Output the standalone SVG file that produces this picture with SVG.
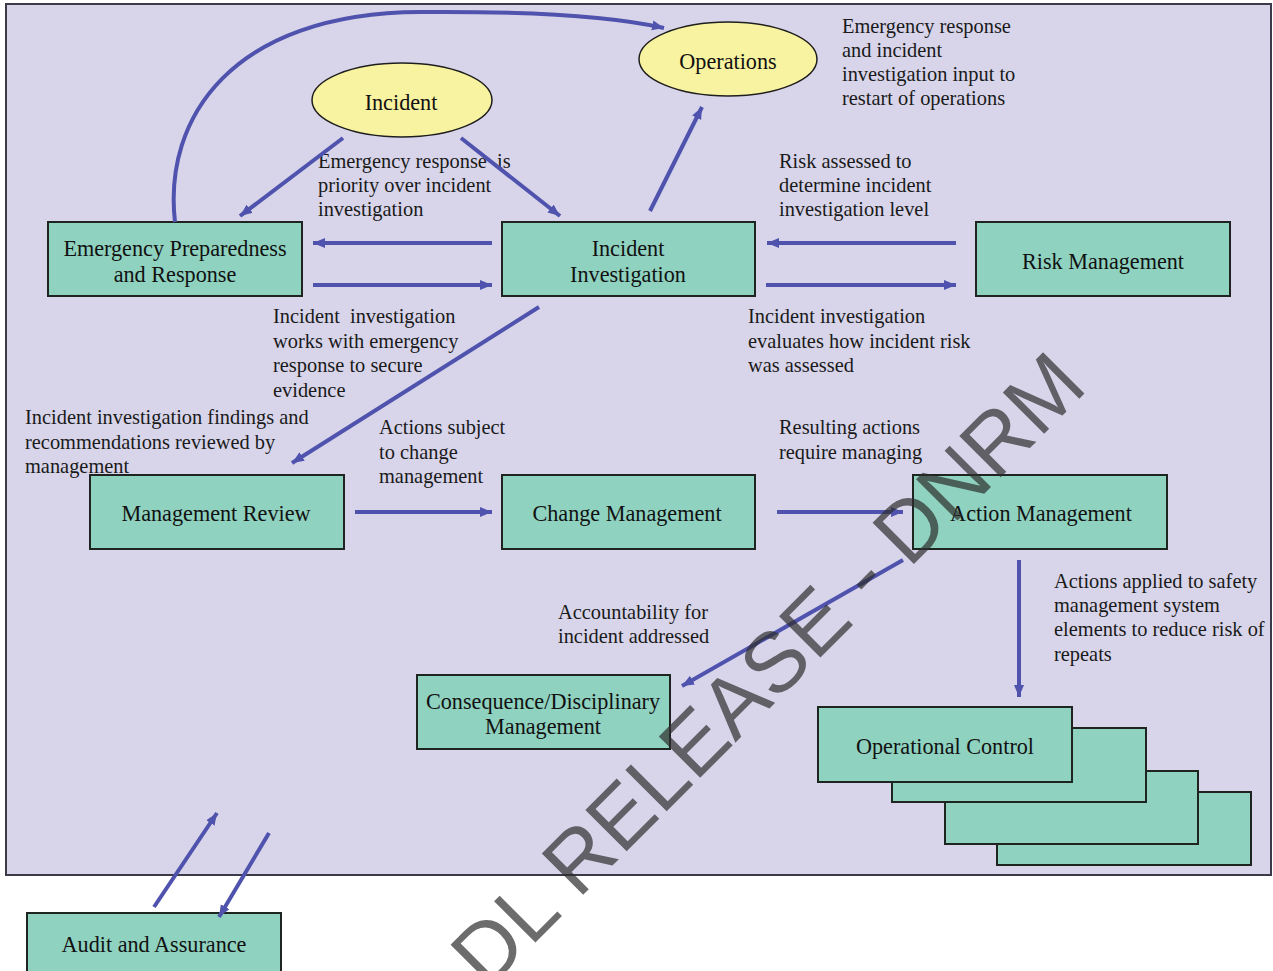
<svg xmlns="http://www.w3.org/2000/svg" width="1273" height="971" viewBox="0 0 1273 971">
  <defs>
    <marker id="head" markerUnits="userSpaceOnUse" markerWidth="14" markerHeight="12" refX="12" refY="5" orient="auto">
      <path d="M0,0 L12,5 L0,10 z" fill="#4f53ad"/>
    </marker>
    <style>
      .frame { fill: #d8d5ea; stroke: #3a3a48; stroke-width: 2; }
      .box { fill: #8fd2c0; stroke: #1e2420; stroke-width: 2; }
      .oval { fill: #f8f3a0; stroke: #1e1e1e; stroke-width: 1.5; }
      .node-text { font-family: "Liberation Serif", "Times New Roman", serif; font-size: 22.2px; fill: #111; text-anchor: middle; }
      .label { font-family: "Liberation Serif", "Times New Roman", serif; font-size: 20.4px; fill: #1a1a1a; }
      .conn { fill: none; stroke: #4f53ad; stroke-width: 4; marker-end: url(#head); }
      .mark { font-family: "Liberation Sans", Arial, sans-serif; font-size: 85px; fill: #2e2e2e; fill-opacity: 0.7; }
    </style>
  </defs>

  <rect class="frame" x="6" y="4" width="1265" height="871"/>

  <!-- Labels -->
  <g id="labels">
    <text class="label" x="842" y="33">Emergency response</text>
    <text class="label" x="842" y="57">and incident</text>
    <text class="label" x="842" y="81">investigation input to</text>
    <text class="label" x="842" y="105">restart of operations</text>

    <text class="label" x="318" y="168" xml:space="preserve">Emergency response  is</text>
    <text class="label" x="318" y="192">priority over incident</text>
    <text class="label" x="318" y="216">investigation</text>

    <text class="label" x="779" y="168">Risk assessed to</text>
    <text class="label" x="779" y="192">determine incident</text>
    <text class="label" x="779" y="216">investigation level</text>

    <text class="label" x="273" y="323" xml:space="preserve">Incident  investigation</text>
    <text class="label" x="273" y="348">works with emergency</text>
    <text class="label" x="273" y="372">response to secure</text>
    <text class="label" x="273" y="397">evidence</text>

    <text class="label" x="748" y="323">Incident investigation</text>
    <text class="label" x="748" y="348">evaluates how incident risk</text>
    <text class="label" x="748" y="372">was assessed</text>

    <text class="label" x="25" y="424">Incident investigation findings and</text>
    <text class="label" x="25" y="449">recommendations reviewed by</text>
    <text class="label" x="25" y="473">management</text>

    <text class="label" x="379" y="434">Actions subject</text>
    <text class="label" x="379" y="459">to change</text>
    <text class="label" x="379" y="483">management</text>

    <text class="label" x="779" y="434">Resulting actions</text>
    <text class="label" x="779" y="459">require managing</text>

    <text class="label" x="558" y="619">Accountability for</text>
    <text class="label" x="558" y="643">incident addressed</text>

    <text class="label" x="1054" y="588">Actions applied to safety</text>
    <text class="label" x="1054" y="612">management system</text>
    <text class="label" x="1054" y="636">elements to reduce risk of</text>
    <text class="label" x="1054" y="661">repeats</text>
  </g>

  <!-- Nodes -->
  <g id="incident">
    <ellipse class="oval" cx="402" cy="100" rx="90" ry="37"/>
    <text class="node-text" x="401" y="110">Incident</text>
  </g>
  <g id="operations">
    <ellipse class="oval" cx="728" cy="59" rx="89" ry="37"/>
    <text class="node-text" x="728" y="69">Operations</text>
  </g>
  <g id="emergency-preparedness">
    <rect class="box" x="48" y="222" width="254" height="74"/>
    <text class="node-text" x="175" y="256">Emergency Preparedness</text>
    <text class="node-text" x="175" y="282">and Response</text>
  </g>
  <g id="incident-investigation">
    <rect class="box" x="502" y="222" width="253" height="74"/>
    <text class="node-text" x="628" y="256">Incident</text>
    <text class="node-text" x="628" y="282">Investigation</text>
  </g>
  <g id="risk-management">
    <rect class="box" x="976" y="222" width="254" height="74"/>
    <text class="node-text" x="1103" y="269">Risk Management</text>
  </g>
  <g id="management-review">
    <rect class="box" x="90" y="475" width="254" height="74"/>
    <text class="node-text" x="216" y="521">Management Review</text>
  </g>
  <g id="change-management">
    <rect class="box" x="502" y="475" width="253" height="74"/>
    <text class="node-text" x="627" y="521">Change Management</text>
  </g>
  <g id="action-management">
    <rect class="box" x="913" y="475" width="254" height="74"/>
    <text class="node-text" x="1041" y="521">Action Management</text>
  </g>
  <g id="consequence-management">
    <rect class="box" x="417" y="675" width="253" height="74"/>
    <text class="node-text" x="543" y="709">Consequence/Disciplinary</text>
    <text class="node-text" x="543" y="734">Management</text>
  </g>
  <g id="operational-control">
    <rect class="box" x="997" y="792" width="254" height="73"/>
    <rect class="box" x="945" y="771" width="253" height="73"/>
    <rect class="box" x="892" y="728" width="254" height="74"/>
    <rect class="box" x="818" y="707" width="254" height="75"/>
    <text class="node-text" x="945" y="754">Operational Control</text>
  </g>
  <g id="audit-assurance">
    <rect class="box" x="27" y="913" width="254" height="62"/>
    <text class="node-text" x="154" y="952">Audit and Assurance</text>
  </g>

  <!-- Connectors -->
  <g id="connectors">
    <path class="conn" d="M175,222 C163,118 232,13 420,12 C540,11 620,18 664,28"/>
    <line class="conn" x1="343" y1="138" x2="240" y2="216"/>
    <line class="conn" x1="461" y1="138" x2="560" y2="216"/>
    <line class="conn" x1="492" y1="243" x2="313" y2="243"/>
    <line class="conn" x1="313" y1="285" x2="492" y2="285"/>
    <line class="conn" x1="650" y1="211" x2="702" y2="107"/>
    <line class="conn" x1="956" y1="243" x2="767" y2="243"/>
    <line class="conn" x1="766" y1="285" x2="956" y2="285"/>
    <line class="conn" x1="539" y1="307" x2="292" y2="463"/>
    <line class="conn" x1="355" y1="512" x2="492" y2="512"/>
    <line class="conn" x1="777" y1="512" x2="903" y2="512"/>
    <line class="conn" x1="903" y1="560" x2="682" y2="686"/>
    <line class="conn" x1="1019" y1="560" x2="1019" y2="697"/>
    <line class="conn" x1="154" y1="907" x2="217" y2="813"/>
    <line class="conn" x1="269" y1="833" x2="219" y2="917"/>
  </g>

  <!-- Release stamp across the sheet -->
  <text class="mark" transform="translate(487,991) rotate(-45)">DL RELEASE - DNRM</text>
</svg>
